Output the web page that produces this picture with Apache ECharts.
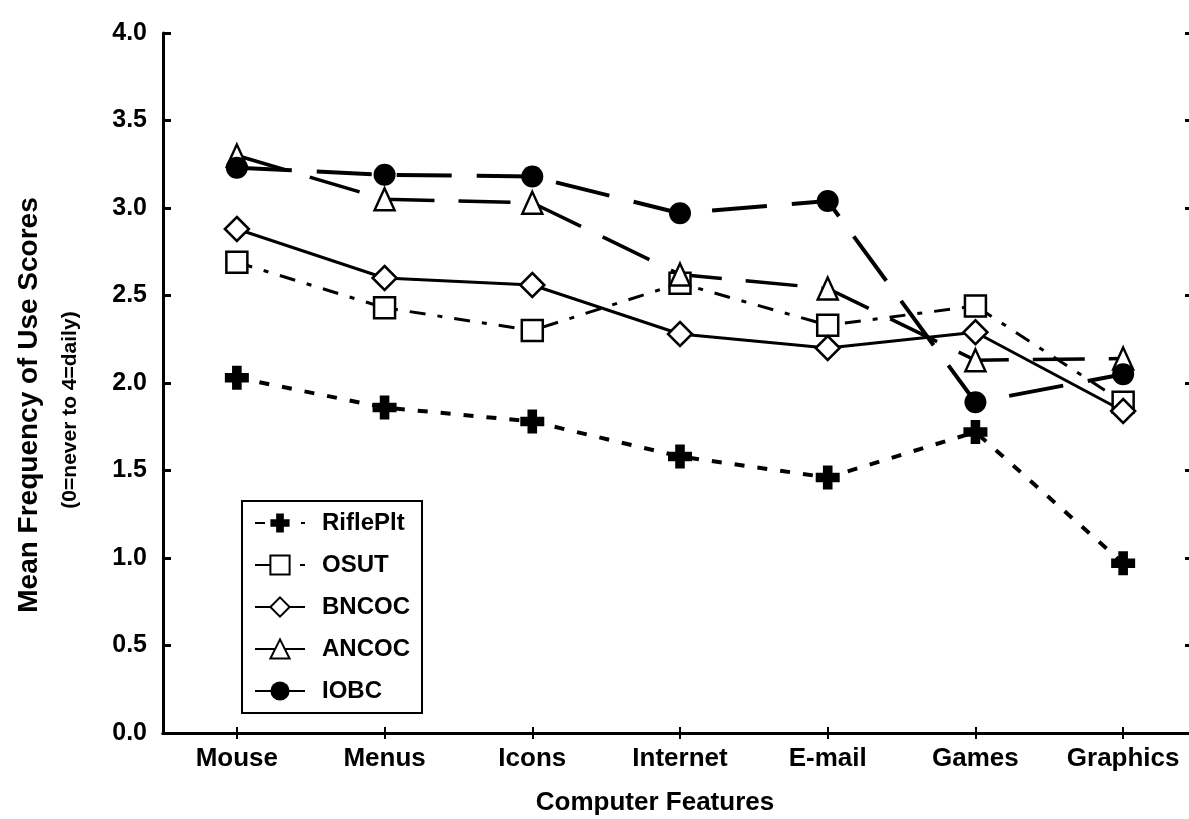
<!DOCTYPE html>
<html>
<head>
<meta charset="utf-8">
<script src="https://cdn.jsdelivr.net/npm/echarts@6/dist/echarts.min.js"></script>
<style>
html,body{margin:0;padding:0;background:#fff;overflow:hidden;}
#chart{width:1204px;height:819px;}
</style>
</head>
<body>
<div id="chart"></div>
<script>
const categories = ['Mouse', 'Menus', 'Icons', 'Internet', 'E-mail', 'Games', 'Graphics'];
const seriesNames = ['RiflePlt', 'OSUT', 'BNCOC', 'ANCOC', 'IOBC'];
const riflePlt = [2.03, 1.86, 1.78, 1.58, 1.46, 1.72, 0.97];
const osut = [2.69, 2.43, 2.30, 2.57, 2.33, 2.44, 1.89];
const bncoc = [2.88, 2.60, 2.56, 2.28, 2.20, 2.29, 1.84];
const ancoc = [3.30, 3.05, 3.03, 2.62, 2.54, 2.13, 2.14];
const iobc = [3.23, 3.19, 3.18, 2.97, 3.04, 1.89, 2.05];
const yTicks = { min: 0, max: 4, interval: 0.5 };
const xTitle = 'Computer Features';
const yTitle = 'Mean Frequency of Use Scores';
const ySubTitle = '(0=never to 4=daily)';

const FONT = '"Liberation Sans", Arial, Helvetica, sans-serif';
const crossPath = 'path://M6,0H14V6H20V14H14V20H6V14H0V6H6Z';

function mk(name, data, opt) {
  return Object.assign({
    name: name,
    type: 'line',
    data: data,
    xAxisIndex: 0,
    yAxisIndex: 0,
    showSymbol: true,
    symbolKeepAspect: false,
    animation: false
  }, opt);
}

const chart = echarts.init(document.getElementById('chart'), null, { renderer: 'canvas' });
chart.setOption({
  backgroundColor: '#ffffff',
  animation: false,
  textStyle: { fontFamily: FONT },
  grid: { left: 163, top: 33, width: 1034, height: 700, containLabel: false },
  legend: {
    orient: 'vertical',
    left: 242,
    top: 501,
    padding: [10, 12, 10, 12],
    itemGap: 18,
    itemWidth: 50,
    itemHeight: 24,
    borderColor: '#000',
    borderWidth: 2,
    backgroundColor: '#fff',
    data: seriesNames,
    textStyle: { fontFamily: FONT, fontWeight: 'bold', fontSize: 24, color: '#000', padding: [0, 0, 0, 12] }
  },
  xAxis: [{
    type: 'category',
    data: categories,
    position: 'bottom',
    boundaryGap: true,
    axisLine: { show: true, lineStyle: { color: '#000', width: 3 } },
    axisTick: { show: true, inside: true, alignWithLabel: true, interval: 0, length: 6, lineStyle: { color: '#000', width: 2 } },
    axisLabel: { interval: 0, color: '#000', fontFamily: FONT, fontWeight: 'bold', fontSize: 26, margin: 13 },
    splitLine: { show: false }
  }, {
    type: 'category',
    data: categories,
    position: 'top',
    boundaryGap: true,
    axisLine: { show: true, lineStyle: { color: '#000', width: 3 } },
    axisTick: { show: true, inside: true, alignWithLabel: true, interval: 0, length: 6, lineStyle: { color: '#000', width: 2 } },
    axisLabel: { show: false },
    splitLine: { show: false }
  }],
  yAxis: [{
    type: 'value',
    min: yTicks.min,
    max: yTicks.max,
    interval: yTicks.interval,
    position: 'left',
    axisLine: { show: true, lineStyle: { color: '#000', width: 3 } },
    axisTick: { show: true, inside: true, length: 8, lineStyle: { color: '#000', width: 3 } },
    axisLabel: { color: '#000', fontFamily: FONT, fontWeight: 'bold', fontSize: 25, margin: 16,
      formatter: v => v.toFixed(1) },
    splitLine: { show: false }
  }, {
    type: 'value',
    min: yTicks.min,
    max: yTicks.max,
    interval: yTicks.interval,
    position: 'right',
    axisLine: { show: true, lineStyle: { color: '#000', width: 3 } },
    axisTick: { show: true, inside: true, length: 12, lineStyle: { color: '#000', width: 3 } },
    axisLabel: { show: false },
    splitLine: { show: false }
  }],
  graphic: [
    { type: 'text', x: 655, y: 803, silent: true,
      style: { text: xTitle, font: 'bold 26px ' + FONT, fill: '#000', align: 'center', verticalAlign: 'middle' } },
    { type: 'text', x: 29, y: 405, rotation: Math.PI / 2, silent: true,
      style: { text: yTitle, font: 'bold 28px ' + FONT, fill: '#000', align: 'center', verticalAlign: 'middle' } },
    { type: 'text', x: 70, y: 410, rotation: Math.PI / 2, silent: true,
      style: { text: ySubTitle, font: 'bold 21px ' + FONT, fill: '#000', align: 'center', verticalAlign: 'middle' } }
  ],
  series: [
    mk('RiflePlt', riflePlt, {
      symbol: crossPath, symbolSize: 24,
      itemStyle: { color: '#000', borderColor: '#000', borderWidth: 0 },
      lineStyle: { color: '#000', width: 4, type: [10, 13] }
    }),
    mk('OSUT', osut, {
      symbol: 'rect', symbolSize: [21, 21],
      itemStyle: { color: '#fff', borderColor: '#000', borderWidth: 2.5 },
      lineStyle: { color: '#000', width: 3, type: [16, 12, 5, 12] }
    }),
    mk('BNCOC', bncoc, {
      symbol: 'diamond', symbolSize: [24, 24],
      itemStyle: { color: '#fff', borderColor: '#000', borderWidth: 2.5 },
      lineStyle: { color: '#000', width: 3, type: 'solid' }
    }),
    mk('ANCOC', ancoc, {
      symbol: 'triangle', symbolSize: [20, 22],
      itemStyle: { color: '#fff', borderColor: '#000', borderWidth: 2.5 },
      lineStyle: { color: '#000', width: 3.5, type: [52, 24] }
    }),
    mk('IOBC', iobc, {
      symbol: 'circle', symbolSize: 22,
      itemStyle: { color: '#000', borderColor: '#000', borderWidth: 0 },
      lineStyle: { color: '#000', width: 4, type: [55, 25] }
    })
  ]
});
</script>
</body>
</html>
